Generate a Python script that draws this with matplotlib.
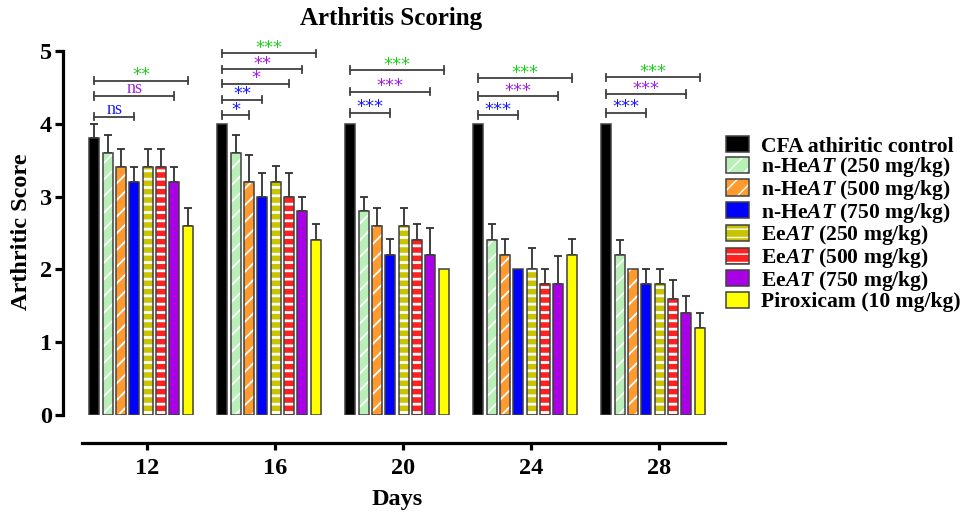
import matplotlib
matplotlib.use("Agg")
import matplotlib.pyplot as plt
from matplotlib.patches import Patch
import numpy as np

plt.rcParams['font.family'] = ['Liberation Serif', 'DejaVu Serif']
plt.rcParams['font.weight'] = 'bold'
plt.rcParams['mathtext.fontset'] = 'custom'
plt.rcParams['mathtext.rm'] = 'Liberation Serif:bold'
plt.rcParams['mathtext.it'] = 'Liberation Serif:italic:bold'
plt.rcParams['mathtext.bf'] = 'Liberation Serif:bold'

days = ['12', '16', '20', '24', '28']
series_names = ['CFA athiritic control', 'n-He$\\mathit{AT}$ (250 mg/kg)', 'n-He$\\mathit{AT}$ (500 mg/kg)',
                'n-He$\\mathit{AT}$ (750 mg/kg)', 'Ee$\\mathit{AT}$ (250 mg/kg)', 'Ee$\\mathit{AT}$ (500 mg/kg)',
                'Ee$\\mathit{AT}$ (750 mg/kg)', 'Piroxicam (10 mg/kg)']

cfa = [3.8, 4.0, 4.0, 4.0, 4.0]
cfa_err = [0.2, 0, 0, 0, 0]
he250 = [3.6, 3.6, 2.8, 2.4, 2.2]
he250_err = [0.25, 0.25, 0.2, 0.23, 0.2]
he500 = [3.4, 3.2, 2.6, 2.2, 2.0]
he500_err = [0.26, 0.37, 0.25, 0.22, 0]
he750 = [3.2, 3.0, 2.2, 2.0, 1.8]
he750_err = [0.2, 0.32, 0.22, 0, 0.2]
ee250 = [3.4, 3.2, 2.6, 2.0, 1.8]
ee250_err = [0.26, 0.22, 0.25, 0.3, 0.2]
ee500 = [3.4, 3.0, 2.4, 1.8, 1.6]
ee500_err = [0.26, 0.32, 0.23, 0.2, 0.25]
ee750 = [3.2, 2.8, 2.2, 1.8, 1.4]
ee750_err = [0.2, 0.2, 0.37, 0.38, 0.23]
pirox = [2.6, 2.4, 2.0, 2.2, 1.2]
pirox_err = [0.25, 0.23, 0, 0.22, 0.2]

means = [cfa, he250, he500, he750, ee250, ee500, ee750, pirox]
errs = [cfa_err, he250_err, he500_err, he750_err, ee250_err, ee500_err, ee750_err, pirox_err]

colors = ['#000000', '#b8f0b8', '#ff9a2e', '#0000ff', '#c8c400', '#ff2020', '#aa00e6', '#ffff00']
hatches = [None, '//', '//', None, '--', '--', None, None]

# significance annotations
sig_day = [0, 0, 0, 1, 1, 1, 1, 1, 2, 2, 2, 3, 3, 3, 4, 4, 4]
sig_bar = [3, 6, 7, 2, 3, 5, 6, 7, 3, 6, 7, 3, 6, 7, 3, 6, 7]
sig_y = [4.10, 4.38, 4.59, 4.12, 4.33, 4.55, 4.75, 4.97, 4.15, 4.44, 4.74, 4.12, 4.38, 4.63, 4.15, 4.41, 4.64]
sig_txt = ['ns', 'ns', '**', '*', '**', '*', '**', '***', '***', '***', '***', '***', '***', '***', '***', '***', '***']
blue_c, purple_c, green_c = '#1a1aff', '#a020e0', '#22cc22'
sig_col = [blue_c, purple_c, green_c, blue_c, blue_c, purple_c, purple_c, green_c,
           blue_c, purple_c, green_c, blue_c, purple_c, green_c, blue_c, purple_c, green_c]

W, H = 979, 517
fig = plt.figure(figsize=(W / 100, H / 100), dpi=100)
ax = fig.add_axes([63 / W, 1 - 415 / H, (725 - 63) / W, (415 - 51) / H])

step = 13.3 / 128
width = 0.078
offset = -6 / 128
x0 = np.arange(len(days))
edge = '#404040'

def hlw(p, h):
    try:
        p.set_hatch_linewidth(2.0 if h == '--' else 1.3)
    except AttributeError:
        pass

for j in range(8):
    xs = x0 + offset + (j - 3.5) * step
    if hatches[j]:
        b = ax.bar(xs, means[j], width, color=colors[j], edgecolor='white', hatch=hatches[j], linewidth=0, zorder=2)
        for p in b:
            hlw(p, hatches[j])
        ax.bar(xs, means[j], width, fill=False, edgecolor=edge, linewidth=1.1, zorder=3)
    else:
        ax.bar(xs, means[j], width, color=colors[j], edgecolor=edge, linewidth=1.1, zorder=3)
    e = np.array(errs[j])
    m = e > 0
    ax.errorbar(xs[m], np.array(means[j])[m], yerr=[np.zeros(m.sum()), e[m]], fmt='none',
                ecolor='#303030', elinewidth=1.3, capsize=3, capthick=1.3, zorder=1)

cap = 0.05
for d, b, y, t, c in zip(sig_day, sig_bar, sig_y, sig_txt, sig_col):
    xa = x0[d] + offset - 3.5 * step
    xb = x0[d] + offset + (b - 3.5) * step
    ax.plot([xa, xb], [y, y], color='#404040', lw=1.3, clip_on=False, zorder=4)
    ax.plot([xa, xa], [y - cap, y + cap], color='#404040', lw=1.3, clip_on=False, zorder=4)
    ax.plot([xb, xb], [y - cap, y + cap], color='#404040', lw=1.3, clip_on=False, zorder=4)
    if t == 'ns':
        ax.annotate(t, ((xa + xb) / 2, y), xytext=(0, 2.0), textcoords='offset points',
                    color=c, ha='center', va='baseline', fontsize=13,
                    family=['Liberation Serif', 'DejaVu Serif'], fontweight='normal', annotation_clip=False)
    else:
        ax.annotate(t, ((xa + xb) / 2, y), xytext=(0, 0.3), textcoords='offset points',
                    color=c, ha='center', va='baseline', fontsize=13,
                    family=['DejaVu Sans'], fontweight='normal', annotation_clip=False)

ax.set_xlim(-84 / 128, (725 - 147) / 128)
ax.set_ylim(0, 5)
ax.spines['top'].set_visible(False)
ax.spines['right'].set_visible(False)
ax.spines['left'].set_linewidth(2.3)
ax.spines['bottom'].set_linewidth(2.3)
ax.spines['bottom'].set_position(('outward', 20))
ax.spines['bottom'].set_bounds(-65 / 128, (725 - 147) / 128)
ax.set_xticks(x0)
ax.set_xticklabels(days)
ax.set_yticks([0, 1, 2, 3, 4, 5])
ax.tick_params(axis='y', length=6, width=2.3, pad=2, labelsize=17.5)
ax.tick_params(axis='x', length=5, width=2.3, pad=6, labelsize=17.5)
for lab in ax.get_xticklabels() + ax.get_yticklabels():
    lab.set_fontweight('bold')

fig.text(22 / W, 1 - 232 / H, 'Arthritic Score', rotation=90, ha='center', va='center',
         fontsize=17.5, fontweight='bold')
fig.text(397 / W, 1 - 499 / H, 'Days', ha='center', va='center', fontsize=17.5, fontweight='bold')
fig.text(391 / W, 1 - 18 / H, 'Arthritis Scoring', ha='center', va='center', fontsize=18, fontweight='bold')

handles = []
for j in range(8):
    if hatches[j]:
        h1 = Patch(facecolor=colors[j], edgecolor='white', hatch=hatches[j], linewidth=0)
        hlw(h1, hatches[j])
        h2 = Patch(fill=False, edgecolor=edge, linewidth=1.1)
        handles.append((h1, h2))
    else:
        handles.append(Patch(facecolor=colors[j], edgecolor=edge, linewidth=1.1))

leg = fig.legend(handles, series_names, loc='upper left', bbox_to_anchor=(726 / W, 1 - 136 / H),
                 frameon=False, handlelength=1.07, handleheight=0.77, handletextpad=0.55,
                 labelspacing=-0.06, borderpad=0, borderaxespad=0,
                 prop={'family': 'Liberation Serif', 'weight': 'bold', 'size': 15.6})

fig.savefig('out.png', dpi=100)
